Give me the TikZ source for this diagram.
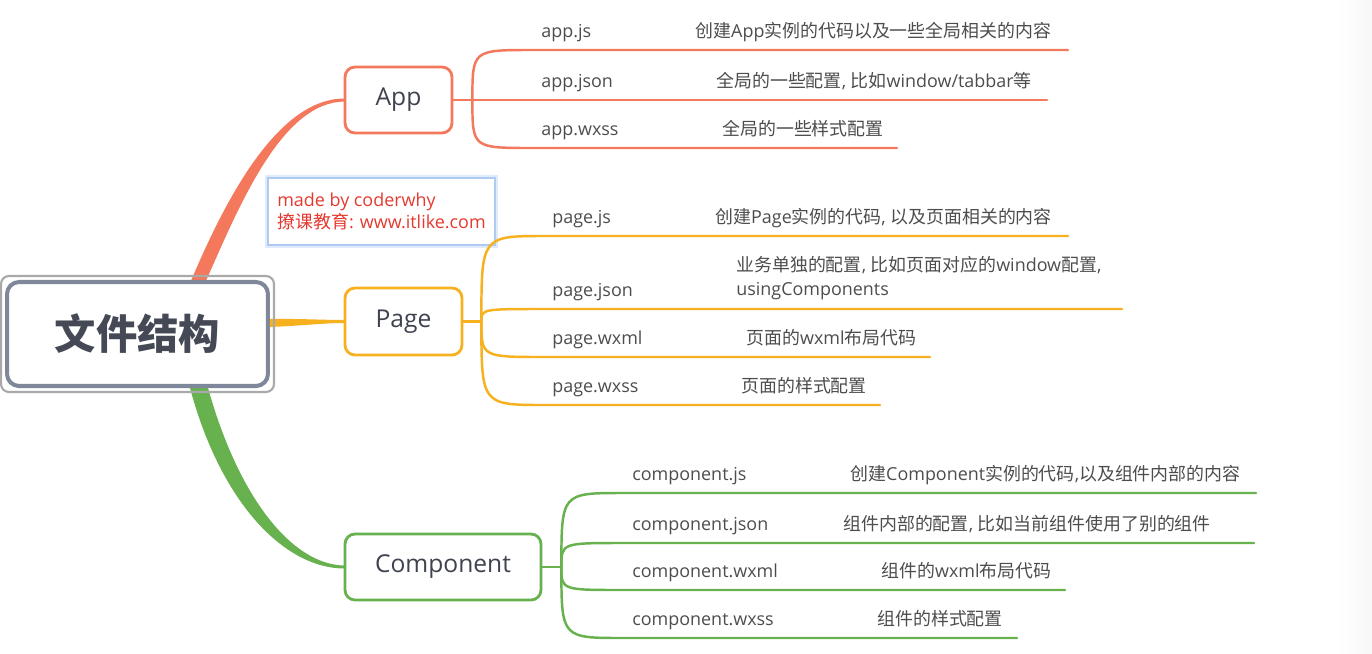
\documentclass[tikz,border=0pt]{standalone}
\usepackage{fontspec}
\setmainfont{Noto Sans CJK SC}
\newfontfamily\en{Open Sans}
\usepackage{tikz}
\usetikzlibrary{calc, backgrounds}
\usepackage{xcolor}
\definecolor{appCol}{HTML}{F4785C}
\definecolor{pageCol}{HTML}{F7B11F}
\definecolor{compCol}{HTML}{68B14F}
\definecolor{rootCol}{HTML}{7F889A}
\definecolor{rimCol}{HTML}{A9A9A9}
\definecolor{rootText}{HTML}{454955}
\definecolor{topicText}{HTML}{3F4350}
\definecolor{leafText}{HTML}{4D4D4D}
\definecolor{markRed}{HTML}{E5392F}
\definecolor{markBlue}{HTML}{AFCBF2}

\begin{document}
\begin{tikzpicture}[
    x=0.02cm, y=-0.02cm,
    root/.style={rectangle, rounded corners=0.24cm, draw=rootCol, line width=2.3pt, fill=white, minimum width=5.22cm, minimum height=2.08cm, font=\bfseries\fontsize{23.5}{28}\selectfont, text=rootText},
    rim/.style={draw=rimCol, line width=1.2pt, rounded corners=0.16cm},
    topic/.style={rectangle, rounded corners=0.2cm, line width=1.6pt, fill=white, minimum height=1.32cm, font=\en\fontsize{14}{17}\selectfont, text=topicText},
    leaf/.style={anchor=base west, inner sep=0pt, font=\en\fontsize{10.2}{13.6}\selectfont, text=leafText},
    desc/.style={anchor=base west, inner sep=0pt, font=\fontsize{10.2}{13.6}\selectfont, text=leafText},
    twig/.style={line width=1.4pt, line cap=round},
    credit/.style={rectangle, draw=markBlue, line width=0.8pt, fill=white, minimum width=4.54cm, minimum height=1.34cm, align=left, font=\fontsize{10.2}{13}\selectfont, text=markRed, preaction={draw=markBlue!40, line width=3pt}}
]
\useasboundingbox (0,0) rectangle (1372,653);

% =====================================================================
% ROOT
% =====================================================================
\node[root] (root) at (137.5,334) {文件结构};
\draw[rim] ($(root.south west)+(-4,4)$) rectangle ($(root.north east)+(4,-4)$);

\node[credit] (credit) at (381.5,211.5) {{\en made by coderwhy}\\撩课教育{\en : www.itlike.com}};

% =====================================================================
% APP
% =====================================================================
\node[topic, draw=appCol, minimum width=2.14cm] (app) at (398.5,100) {App};
\node[leaf] (ajs) at (541,37) {app.js};
\node[desc] (ajsd) at (695,37) {创建{\en App}实例的代码以及一些全局相关的内容};
\node[leaf] (ajson) at (541,87) {app.json};
\node[desc] (ajsond) at (716,87) {全局的一些配置{\en , }比如{\en window/tabbar}等};
\node[leaf] (awxss) at (541,135) {app.wxss};
\node[desc] (awxssd) at (722,135) {全局的一些样式配置};

\coordinate (appfork) at ($(app.east)+(19,0)$);
\coordinate (ajs-end) at (1068,50);
\coordinate (ajson-end) at (1047,100);
\coordinate (awxss-end) at (897,148);

% =====================================================================
% PAGE
% =====================================================================
\node[topic, draw=pageCol, minimum width=2.34cm, minimum height=1.34cm] (page) at (403.5,321.5) {Page};
\node[leaf] (pjs) at (552,223) {page.js};
\node[desc] (pjsd) at (715,223) {创建{\en Page}实例的代码{\en , }以及页面相关的内容};
\node[leaf] (pjson) at (552,296) {page.json};
\node[desc, anchor=west, align=left] (pjsond) at (736,278) {业务单独的配置{\en , }比如页面对应的{\en window}配置{\en ,}\\{\en usingComponents}};
\node[leaf] (pwxml) at (552,344) {page.wxml};
\node[desc] (pwxmld) at (746,344) {页面的{\en wxml}布局代码};
\node[leaf] (pwxss) at (552,392) {page.wxss};
\node[desc] (pwxssd) at (741,392) {页面的样式配置};

\coordinate (pagefork) at ($(page.east)+(18,0)$);
\coordinate (pjs-end) at (1068,236);
\coordinate (pjson-end) at (1122,309);
\coordinate (pwxml-end) at (930,357);
\coordinate (pwxss-end) at (880,405);

% =====================================================================
% COMPONENT
% =====================================================================
\node[topic, draw=compCol, minimum width=3.92cm] (comp) at (443,567) {Component};
\node[leaf] (cjs) at (632,480) {component.js};
\node[desc] (cjsd) at (850,480) {创建{\en Component}实例的代码{\en ,}以及组件内部的内容};
\node[leaf] (cjson) at (632,530) {component.json};
\node[desc] (cjsond) at (843,530) {组件内部的配置{\en , }比如当前组件使用了别的组件};
\node[leaf] (cwxml) at (632,577) {component.wxml};
\node[desc] (cwxmld) at (881,577) {组件的{\en wxml}布局代码};
\node[leaf] (cwxss) at (632,625) {component.wxss};
\node[desc] (cwxssd) at (877,625) {组件的样式配置};

\coordinate (compfork) at ($(comp.east)+(19,0)$);
\coordinate (cjs-end) at (1256,493);
\coordinate (cjson-end) at (1254,543);
\coordinate (cwxml-end) at (1065,590);
\coordinate (cwxss-end) at (1017,638);

% =====================================================================
% TWIGS
% =====================================================================
\draw[twig, draw=appCol] (app.east) -- (appfork);
\foreach \c in {ajs, ajson, awxss}
    \draw[twig, draw=appCol] (appfork) .. controls (appfork |- \c-end) .. ($(appfork |- \c-end)+(60,0)$) -- (\c-end);

\draw[twig, draw=pageCol] (page.east) -- (pagefork);
\foreach \c in {pjs, pjson, pwxml, pwxss}
    \draw[twig, draw=pageCol] (pagefork) .. controls (pagefork |- \c-end) .. ($(pagefork |- \c-end)+(64,0)$) -- (\c-end);

\draw[twig, draw=compCol] (comp.east) -- (compfork);
\foreach \c in {cjs, cjson, cwxml, cwxss}
    \draw[twig, draw=compCol] (compfork) .. controls (compfork |- \c-end) .. ($(compfork |- \c-end)+(62,0)$) -- (\c-end);

% =====================================================================
% MAIN BRANCHES
% =====================================================================
\begin{scope}[on background layer]
    \fill[white] (0,0) rectangle (1372,653);
    \fill[left color=white, right color=black!3] (1335,0) rectangle (1372,653);

    % root to App
    \fill[appCol] ($(root.north)+(53,2)$) .. controls (226,198) and (278,98.5) .. ($(app.west)+(1,-1.5)$)
        -- ($(app.west)+(1,1.5)$) .. controls (282,102) and (240,204) .. ($(root.north)+(68,2)$) -- cycle;
    % root to Page
    \fill[pageCol] ($(root.east)+(-2,-15)$) .. controls (300,318.5) and (322,320) .. ($(page.west)+(1,-1.5)$)
        -- ($(page.west)+(1,1.5)$) .. controls (322,323) and (300,326) .. ($(root.east)+(-2,-7)$) -- cycle;
    % root to Component
    \fill[compCol] ($(root.south)+(52,-2)$) .. controls (220,502) and (284,568.5) .. ($(comp.west)+(1,1.5)$)
        -- ($(comp.west)+(1,-1.5)$) .. controls (292,565) and (238,497) .. ($(root.south)+(70,-2)$) -- cycle;
\end{scope}

\end{tikzpicture}
\end{document}
